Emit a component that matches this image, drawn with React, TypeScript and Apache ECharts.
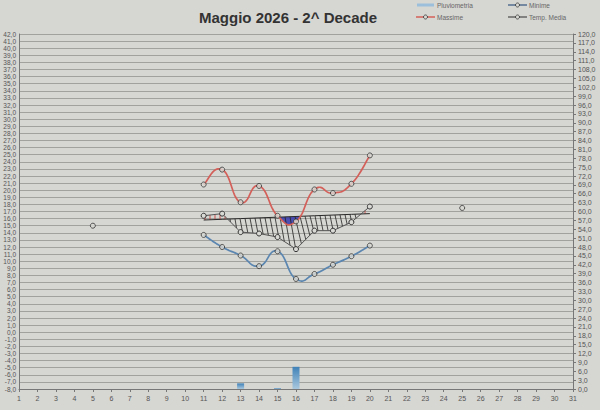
import { useEffect, useRef } from "react";
import * as echarts from "echarts";

// ---- data ----
const dayLabels = ["1", "2", "3", "4", "5", "6", "7", "8", "9", "10", "11", "12", "13", "14", "15", "16", "17", "18", "19", "20", "21", "22", "23", "24", "25", "26", "27", "28", "29", "30", "31"];
const decadeDays = [11, 12, 13, 14, 15, 16, 17, 18, 19, 20];
const massime = [20.8, 22.9, 18.3, 20.6, 16.4, 15.6, 20.1, 19.6, 20.9, 24.9];
const minime = [13.7, 12.0, 10.8, 9.3, 11.4, 7.5, 8.2, 9.5, 10.7, 12.2];
const tempMedia = [16.4, 16.7, 14.1, 13.9, 13.4, 11.7, 14.3, 14.3, 15.5, 17.7];
const normale = [15.8, 15.9, 16.0, 16.1, 16.2, 16.3, 16.4, 16.5, 16.6, 16.7];
const riferimentoDays = [5, 25];
const riferimento = [15.0, 17.5];
const pioggiaDays = [13, 15, 16];
const pioggia = [1.9, 0.3, 7.5];

const tempMin = -8, tempMax = 42, tempStep = 1;
const rainMin = 0, rainMax = 120, rainStep = 3;

const FONT = "'Liberation Sans', Arial, sans-serif";
const RED = "#d4605a";
const BLUE = "#5a86b0";
const pair = (ds: number[], vs: number[]) => ds.map((d, i) => [d - 1, vs[i]]);
const fmt = (v: number) => v.toFixed(1).replace(".", ",");

const markerStyle = { color: "#d9d9d5", borderColor: "#333", borderWidth: 1 };

// Excel-like smoothing of pixel points (cardinal spline as cubic Bezier)
function smoothPts(p: number[][], samples = 24): number[][] {
  const k = 4;
  const out: number[][] = [];
  for (let i = 0; i < p.length - 1; i++) {
    const p0 = p[i - 1] || p[i], p1 = p[i], p2 = p[i + 1], p3 = p[i + 2] || p[i + 1];
    const c1 = [p1[0] + (p2[0] - p0[0]) / k, p1[1] + (p2[1] - p0[1]) / k];
    const c2 = [p2[0] - (p3[0] - p1[0]) / k, p2[1] - (p3[1] - p1[1]) / k];
    for (let s = 0; s < samples; s++) {
      const t = s / samples, u = 1 - t;
      out.push([
        u * u * u * p1[0] + 3 * u * u * t * c1[0] + 3 * u * t * t * c2[0] + t * t * t * p2[0],
        u * u * u * p1[1] + 3 * u * u * t * c1[1] + 3 * u * t * t * c2[1] + t * t * t * p2[1],
      ]);
    }
  }
  out.push(p[p.length - 1]);
  return out;
}

function at(p: number[][], x: number) {
  for (let i = 0; i < p.length - 1; i++) {
    const a = Math.min(p[i][0], p[i + 1][0]), b = Math.max(p[i][0], p[i + 1][0]);
    if (x >= a && x <= b) {
      const dx = p[i + 1][0] - p[i][0] || 1;
      const t = (x - p[i][0]) / dx;
      return p[i][1] + t * (p[i + 1][1] - p[i][1]);
    }
  }
  return x < p[0][0] ? p[0][1] : p[p.length - 1][1];
}

export default function App() {
  const ref = useRef<HTMLDivElement>(null);
  useEffect(() => {
    document.body.style.margin = "0";
    const chart = echarts.init(ref.current!, undefined, { renderer: "svg" });

    const coords = (api: any, vals: number[]) => decadeDays.map((d, i) => api.coord([d - 1, vals[i]]));

    const renderHatch = (_params: any, api: any) => {
      const pN = coords(api, normale), pM = coords(api, tempMedia);
      const pX = smoothPts(coords(api, massime));
      const xs = pN[0][0], xe = pN[pN.length - 1][0];
      const children: any[] = [];
      let run: number[][] = [];
      const flush = () => {
        if (run.length > 1) {
          const top = run.map((r) => [r[0], r[1]]);
          const bot = run.map((r) => [r[0], r[2]]).reverse();
          children.push({ type: "polygon", shape: { points: top.concat(bot) }, style: { fill: "#3d3fb0", opacity: 0.9 } });
        }
        run = [];
      };
      for (let x = xs; x <= xe; x += 0.5) {
        const yN = at(pN, x), yX = at(pX, x);
        if (yX > yN) run.push([x, yN, yX]);
        else flush();
      }
      flush();
      const step = 5;
      for (let x = Math.ceil(xs / step) * step; x < xe; x += step) {
        const yN = at(pN, x), yM = at(pM, x);
        const h = yM - yN;
        if (Math.abs(h) < 1.2) continue;
        if (h > 0) {
          const x2 = Math.min(x + h * 0.2, xe);
          children.push({ type: "line", shape: { x1: x, y1: yN, x2, y2: at(pM, x2) }, style: { stroke: "#222", lineWidth: 0.8 } });
        } else {
          children.push({ type: "line", shape: { x1: x, y1: yN, x2: x, y2: yM }, style: { stroke: "#c8463e", lineWidth: 0.9 } });
        }
      }
      return { type: "group", children };
    };

    const renderCurves = (_params: any, api: any) => ({
      type: "group",
      children: [
        { type: "polyline", shape: { points: smoothPts(coords(api, massime)) }, style: { stroke: RED, lineWidth: 1.7, fill: "none" } },
        { type: "polyline", shape: { points: smoothPts(coords(api, minime)) }, style: { stroke: BLUE, lineWidth: 1.7, fill: "none" } },
      ],
    });

    const legendText = (x: number, y: number, text: string) => ({
      type: "text", x, y, style: { text, fill: "#666", font: `6.5px ${FONT}`, verticalAlign: "middle", align: "left" },
    });
    const legendLine = (x: number, y: number, color: string, marker: boolean) => {
      const arr: any[] = [{ type: "line", shape: { x1: x, y1: y, x2: x + 19, y2: y }, style: { stroke: color, lineWidth: 1.5 } }];
      if (marker) arr.push({ type: "circle", shape: { cx: x + 9.5, cy: y, r: 2 }, style: { fill: "#d9d9d5", stroke: "#333", lineWidth: 0.8 } });
      return arr;
    };

    chart.setOption({
      animation: false,
      backgroundColor: "#d6d6d2",
      textStyle: { fontFamily: FONT },
      grid: { left: 19, right: 27, top: 34, bottom: 21, containLabel: false },
      xAxis: {
        type: "category",
        data: dayLabels,
        boundaryGap: false,
        axisLine: { onZero: false, lineStyle: { color: "#777", width: 1 } },
        axisTick: { show: true, length: 3, lineStyle: { color: "#777" } },
        axisLabel: { fontSize: 7, color: "#555", margin: 6, interval: 0 },
        splitLine: { show: false },
      },
      yAxis: [
        {
          type: "value", min: tempMin, max: tempMax, interval: tempStep,
          axisLine: { show: true, lineStyle: { color: "#777" } },
          axisTick: { show: false },
          axisLabel: { fontSize: 6.5, color: "#555", margin: 3, formatter: fmt },
          splitLine: { show: true, lineStyle: { color: "#939391", width: 0.8 } },
        },
        {
          type: "value", min: rainMin, max: rainMax, interval: rainStep, position: "right",
          axisLine: { show: true, lineStyle: { color: "#777" } },
          axisTick: { show: true, length: 3, lineStyle: { color: "#777" } },
          axisLabel: { fontSize: 7, color: "#555", margin: 5, formatter: fmt },
          splitLine: { show: false },
        },
      ],
      series: [
        {
          name: "Pluviometria", type: "bar", yAxisIndex: 1, barWidth: 7,
          data: pair(pioggiaDays, pioggia),
          itemStyle: {
            color: new echarts.graphic.LinearGradient(0, 0, 0, 1, [
              { offset: 0, color: "#3f82b8" },
              { offset: 1, color: "#aac8de" },
            ]),
          },
        },
        {
          name: "hatch", type: "custom", z: 1, silent: true,
          data: [[decadeDays[0] - 1, normale[0]]],
          encode: { x: 0, y: 1 },
          renderItem: renderHatch,
        },
        {
          name: "Normale", type: "line", z: 3, symbol: "none",
          data: pair(decadeDays, normale),
          lineStyle: { color: "#2a2a2a", width: 1 },
        },
        {
          name: "Riferimento", type: "scatter", z: 4, symbol: "circle", symbolSize: 5,
          data: pair(riferimentoDays, riferimento),
          itemStyle: markerStyle,
        },
        {
          name: "Temp. Media", type: "line", z: 4, symbol: "circle", symbolSize: 5, showAllSymbol: true,
          data: pair(decadeDays, tempMedia),
          lineStyle: { color: "#555", width: 1 },
          itemStyle: markerStyle,
        },
        {
          name: "curves", type: "custom", z: 5, silent: true,
          data: [[decadeDays[0] - 1, massime[0]]],
          encode: { x: 0, y: 1 },
          renderItem: renderCurves,
        },
        {
          name: "Massime", type: "scatter", z: 6, symbol: "circle", symbolSize: 5,
          data: pair(decadeDays, massime),
          itemStyle: markerStyle,
        },
        {
          name: "Minime", type: "scatter", z: 6, symbol: "circle", symbolSize: 5,
          data: pair(decadeDays, minime),
          itemStyle: markerStyle,
        },
      ],
      graphic: [
        {
          type: "text", x: 288, y: 17,
          style: { text: "Maggio 2026 - 2^ Decade", fill: "#333", font: `bold 15px ${FONT}`, align: "center", verticalAlign: "middle" },
        },
        { type: "rect", shape: { x: 417, y: 3.5, width: 17, height: 3 }, style: { fill: "#9cc0dc" } },
        legendText(437, 5, "Pluviometria"),
        ...legendLine(508, 5, "#55708f", true),
        legendText(529, 5, "Minime"),
        ...legendLine(416, 17, RED, true),
        legendText(437, 17, "Massime"),
        ...legendLine(508, 17, "#666", true),
        legendText(529, 17, "Temp. Media"),
      ],
    });
    return () => chart.dispose();
  }, []);
  return <div ref={ref} style={{ width: 600, height: 410 }} />;
}
